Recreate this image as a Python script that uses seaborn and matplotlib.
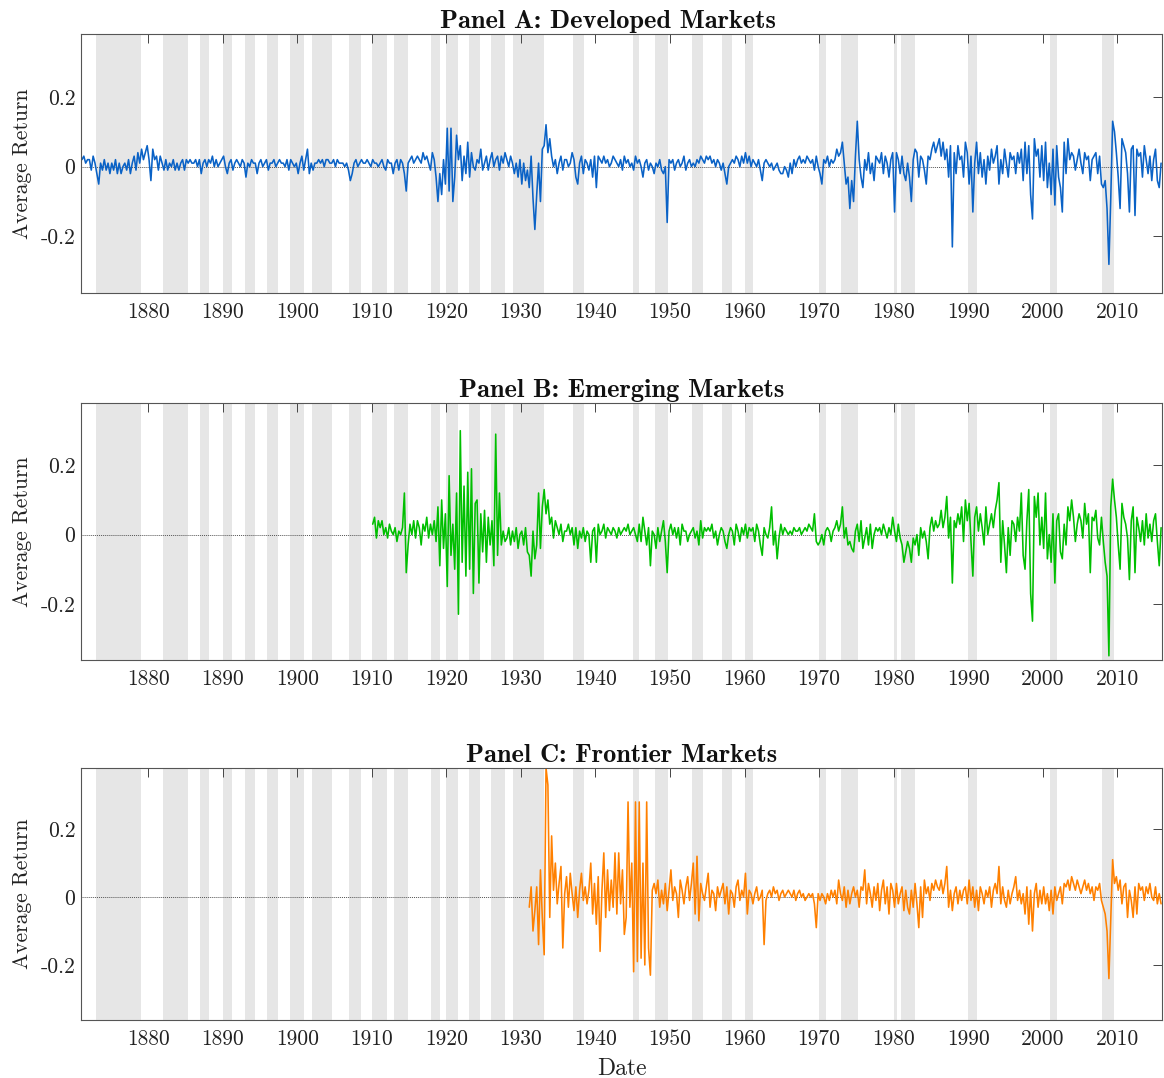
import numpy as np
import pandas as pd
import matplotlib
matplotlib.use("Agg")
import matplotlib.pyplot as plt
import seaborn as sns

# quarterly average returns, in percent (one row per decade, 4 values per year)
dev_start = 1871
dev_ret = [
    2, 3, 1, 2, 2, -1, 3, 1, -2, -5, 1, -1, 2, -1, 1, -2, 1, -1, 2, -2, 1, -2, 0, 1, -1, 2, -2, 1, 3, -1, 4, 1, 5, 2, 4, 6, 2, -4, 5, 2,
    3, -1, 3, 1, -1, 2, -1, 1, 0, 2, -1, 1, -1, 1, 2, -1, 2, 1, 2, 1, 1, 2, 0, 2, -2, 1, 2, 0, 2, 1, 3, 0, 2, 0, 1, 2, 3, 0, -2, 1,
    2, -1, 1, 2, 1, 0, 2, 1, -3, 1, 0, 2, 1, 1, -2, 1, 2, 0, 1, 2, -1, 1, 1, 2, 0, 1, 2, 1, 1, 0, 2, -1, 2, 1, 0, 1, -2, 1, 3, -1,
    2, 5, -2, 1, -1, 1, 1, 2, 1, 2, 0, 2, 2, 1, 1, 2, 0, 2, 1, 1, 1, 0, 1, -1, -4, -2, 1, 2, 0, 1, 2, 1, 1, 2, 1, 0, 2, 1, 1, 0,
    1, 2, 0, -1, 2, 1, 1, -2, 1, 2, -1, 2, 1, -2, -7, 1, 2, 3, 1, 2, 3, 2, 1, 4, 2, 3, 1, -1, 4, 2, -3, -10, -2, -8, 2, -5, 11, -7, 11, -10,
    -3, 9, 2, 6, -4, 3, -2, 7, -3, 4, 0, -1, 2, 1, 5, -1, 1, 3, -1, 2, 4, 0, 2, 3, -1, 3, 1, 4, 2, 0, 3, 1, -2, 1, -3, 2, -5, 1, -4, -1,
    -6, 3, -9, -18, -8, 1, -10, 5, 6, 12, 4, 8, 3, 0, 2, -2, 1, 3, -1, 2, 2, 0, 1, 4, 2, -3, -5, 1, 3, -2, 2, 1, -1, 2, -3, 3, -6, 3, 2, 1,
    3, 1, 2, 0, 1, 3, 2, 1, 0, 2, -1, 3, 1, 2, 0, 1, -1, 3, 1, 2, 0, -3, 1, 2, -1, 1, 0, -2, 1, 0, 2, -1, -2, 0, -16, 2, 1, 2, -1, 1,
    2, 0, 1, 3, -1, 1, 2, 0, 1, 0, 2, 1, 3, 2, 1, 3, 2, 3, 1, 2, 0, 2, 1, -1, 1, -2, -5, 0, 1, 2, 1, 3, 2, 0, 3, 1, 4, 1, 3, 0,
    2, 1, 0, 2, -1, -4, 1, 2, 1, 0, 1, -1, 0, 1, -1, -2, -2, 0, -1, -3, 1, -2, 2, 0, 2, 3, 1, 2, 1, 3, 2, 1, 2, -1, 3, 0, -2, -5, 2, 1,
    3, 0, 2, 1, 2, 5, 3, 4, 7, 1, -5, -3, -12, -4, -10, 3, 13, 2, -3, -6, 2, -1, 4, -2, 1, -4, 3, 2, 1, 4, -2, 3, 1, -3, 2, 4, -13, 4, 2, -2,
    3, -2, -4, 1, -3, -10, 2, 5, 4, -3, 3, 2, -1, -5, 3, 2, 5, 7, 4, 6, 8, 3, 7, 2, 5, -3, 6, -23, 4, -2, 6, 2, 3, -3, 7, 4, -5, 3, -13, 1,
    7, -2, 4, -3, 2, -5, 3, -1, 5, 1, 3, 6, -5, 2, -2, 5, 1, -3, 4, 2, 3, -2, 4, 1, 5, -4, 7, -2, 6, -8, -15, 8, 3, 5, -3, 6, -4, 7, -6, 1,
    -8, 5, -11, 6, -3, -6, -13, 7, -2, 8, 2, 4, 3, -1, 2, 5, 1, -2, 4, 2, 3, -4, 2, 3, 4, -2, 3, -5, -6, -4, -12, -28, -9, 13, 10, 4, -3, -12, 8, 6,
    4, -2, -13, 5, 6, -14, 5, 3, 4, -3, 6, 2, -2, 3, -4, 2, 5, -4, -6, 1,
]

emg_start = 1910
emg_ret = [
    3, 5, -1, 4, 2, 4, 0, 2, -1, 3, 1, 0, 2, -2, 1, 0, 2, 12, -11, -3, 3, 0, 4, -1, 4, 2, -3, 3, 1, 5, -1, 3, 0, 4, -2, 8, -9, 10, -4, 6,
    -15, 17, -6, 3, -10, 12, -23, 30, -8, 14, -12, 18, -10, 19, -17, 9, 10, -14, 6, -5, 7, -8, 5, -3, 4, -9, 29, -6, 12, -3, 1, -2, -1, 2, -3, 1, -2, 2, -4, 0,
    1, -3, 2, -5, -6, -12, 1, -7, -3, 12, -4, 8, 13, 6, 10, 3, 5, -1, 4, 2, 0, 3, -2, 1, 1, 3, 0, 2, -3, 2, -4, 1, -1, 2, -2, 1, 0, -8, 1, 2,
    -8, 3, 0, 1, 3, -1, 2, 1, 0, 2, 1, -1, 2, 0, 1, 2, 1, 3, 0, 1, 2, 0, -2, 3, -2, 5, 1, -3, 2, -9, 1, 0, -4, 2, -2, 1, 4, -2, -11, 1,
    3, 0, 2, -1, 2, -3, 3, 1, 1, -2, 0, 1, 2, -1, 1, -3, 4, -1, 2, 1, 2, 1, 3, -1, 1, -3, 0, 2, 1, -2, -4, 0, 2, 1, -3, 3, 1, -2, 2, 0,
    3, -1, 2, 1, 2, -2, 3, 1, -3, -6, 2, 0, -1, 2, 8, -3, 1, -7, -1, 3, 0, 2, 1, 0, 1, 0, 2, 1, 1, 2, 0, 1, 2, 1, 3, 2, 1, 6, -2, -3,
    -2, 0, -3, 1, 2, 1, -2, 1, 2, 4, 1, 3, 8, -1, 2, -3, -2, -4, -5, 1, 3, -2, 4, -4, -1, 2, -3, 3, -4, 0, 2, 1, 2, 0, 3, 1, -1, 2, 0, 5,
    1, -2, 3, -1, -3, -8, -5, -2, -4, -8, -1, -3, 0, -6, 2, -1, 1, -2, -7, 2, 5, 1, 4, 2, 3, 7, 2, 5, 11, -1, 5, -14, 4, 2, 6, 3, 8, -2, 10, 4,
    9, -2, -12, 5, 8, 1, 6, 2, -3, 8, 0, 3, 6, 2, 7, 10, 15, -8, 4, -3, -11, 2, -6, 4, 3, -2, 5, 1, 12, -6, -10, 4, 13, -17, -25, 11, 5, 12, -3, 5,
    -4, 12, -7, 0, -8, 6, -14, 4, 6, -5, -7, 3, -3, 8, 4, 10, 5, -2, 3, 6, 4, -1, 9, 3, 6, -11, 5, 4, 7, -1, -3, 5, -2, -8, -12, -35, 8, 16, 10, 5,
    -3, -10, 9, 5, 3, -1, -13, 4, 8, -11, 5, 2, -2, 4, -3, 6, -1, 3, -2, 4, 6, -2, -9, 2,
]

fro_start = 1931
fro_ret = [
    -3, 3, -10, -4, 3, -14, 8, -6, -17, 38, 33, -6, 18, 2, 10, -2, 4, 9, -15, 1, 6, -3, 7, 1, -4, 3, -6, 2, 7, -1, 3, -2, 2, 10, -5, 4, -8, 6, -16, 2,
    13, -6, 8, -4, 5, -3, 13, -5, 13, -2, 8, -11, -6, 28, -3, 10, -22, 28, -19, 28, -18, 10, -20, 28, -15, -23, 2, 4, 1, 5, -3, 2, -2, 4, -4, 2, 8, -1, 3, 1,
    -6, 5, 2, -2, 3, 6, -1, 4, 10, -5, 12, -7, 4, 1, -1, 3, 7, -3, 2, 1, -4, 3, 0, 2, 4, -2, 3, -5, 2, 1, -3, 3, 5, -1, 2, 0, 7, -5, 2, 1,
    -2, 1, 3, -1, 0, 2, -14, -1, 1, 2, 0, 3, 1, 2, -1, 1, 2, 0, 1, 2, 1, 0, 2, -1, 1, 2, 0, 1, -1, 0, 1, 0, 1, -2, -9, 1, -1, 1, 0, -2,
    1, -1, 2, 0, 2, -2, 5, 1, -1, 3, -3, 2, -2, 1, 3, 0, 2, -3, 3, 2, 8, -2, 4, 1, -3, 3, -1, 4, -4, 2, 5, -2, 3, -5, 4, 2, -3, 4, -2, 1,
    3, -4, 2, -3, -5, 2, -3, 4, -2, -9, 3, -6, 5, 1, 3, -1, 4, 2, 5, 3, 2, 5, 1, 4, 9, -3, 2, -4, 1, 3, -2, 2, -1, 2, 3, -2, 5, -1, 3, -3,
    2, -4, 3, 1, -2, 2, 0, 3, -3, 2, 4, 1, 9, -2, 3, -1, -3, 2, -2, 1, 3, 6, -1, 2, -2, 1, -5, 3, -8, 2, -10, 1, 4, -3, 2, -2, 3, -2, 1, -4,
    2, -5, 3, -1, 1, 3, -2, 4, 3, 5, 2, 6, 4, 2, 5, 3, 1, 3, 5, 2, 4, 1, 3, -1, 3, 2, 4, -1, -3, -5, -10, -24, -6, 11, 4, 6, 2, 5, -2, 3,
    4, -6, 2, -1, -6, 3, -5, 4, 2, 3, -1, 3, 1, 4, 0, -1, 3, -2, 1, -2,
]

# recession periods (shaded)
rec_start = [1873, 1882, 1887, 1890, 1893, 1896, 1899, 1902, 1907, 1910, 1913, 1918, 1920, 1923, 1926,
             1929, 1937, 1945, 1948, 1953, 1957, 1960, 1970, 1973, 1980, 1981, 1990, 2001, 2008]
rec_end = [1879.1, 1885.3, 1888.2, 1891.3, 1894.4, 1897.4, 1900.9, 1904.6, 1908.5, 1912.0, 1914.9, 1919.1, 1921.5,
           1924.5, 1927.9, 1933.1, 1938.45, 1945.8, 1949.8, 1954.4, 1958.3, 1961.1, 1970.9, 1975.2, 1980.5,
           1982.9, 1991.2, 2001.9, 2009.5]

year_ticks = list(range(1880, 2011, 10))
ret_ticks = [-0.2, 0, 0.2]
ret_labels = ["-0.2", "0", "0.2"]

panels = [
    ("Panel A: Developed Markets", dev_start, dev_ret, "#0a62c6"),
    ("Panel B: Emerging Markets", emg_start, emg_ret, "#00bf00"),
    ("Panel C: Frontier Markets", fro_start, fro_ret, "#ff8000"),
]

sns.set_style("white")
plt.rcParams["font.family"] = ["cmr10", "DejaVu Serif"]
plt.rcParams["axes.unicode_minus"] = False

fig = plt.figure(figsize=(11.64, 10.78), dpi=100)
boxes = [
    [0.0696, 0.7282, 0.9287, 0.2403],
    [0.0696, 0.3878, 0.9287, 0.2384],
    [0.0696, 0.0538, 0.9287, 0.2338],
]
title_x = [0.487, 0.5, 0.5]

for i, (title, start, vals, color) in enumerate(panels):
    ax = fig.add_axes(boxes[i])
    for s, e in zip(rec_start, rec_end):
        ax.axvspan(s, e, color="#e6e6e6", lw=0, zorder=0)
    ax.axhline(0, color="#555555", lw=0.7, ls=(0, (1, 1)), zorder=1)

    df = pd.DataFrame({
        "date": start + (np.arange(len(vals)) + 0.5) / 4.0,
        "ret": np.array(vals) / 100.0,
    })
    sns.lineplot(data=df, x="date", y="ret", ax=ax, color=color, lw=1.15, zorder=2)

    ax.set_xlim(1871, 2016)
    ax.set_ylim(-0.362, 0.38)
    ax.set_xticks(year_ticks)
    ax.set_xticklabels([str(y) for y in year_ticks])
    ax.set_yticks(ret_ticks)
    ax.set_yticklabels(ret_labels)
    ax.tick_params(direction="in", top=True, right=True, length=6.5, width=0.7,
                   color="#444444", labelcolor="#222222", labelsize=15.5)
    ax.tick_params(axis="x", pad=7)
    ax.tick_params(axis="y", pad=4)
    for sp in ax.spines.values():
        sp.set_color("#555555")
        sp.set_linewidth(0.8)

    ax.set_title(title, family="cmb10", fontsize=19, color="#111111", pad=4, x=title_x[i])
    ax.set_ylabel("Average Return", fontsize=15.5, color="#222222", labelpad=6)
    if i == 2:
        ax.set_xlabel("Date", fontsize=17, color="#222222", labelpad=6)
    else:
        ax.set_xlabel("")

fig.savefig("out.png", dpi=100)
